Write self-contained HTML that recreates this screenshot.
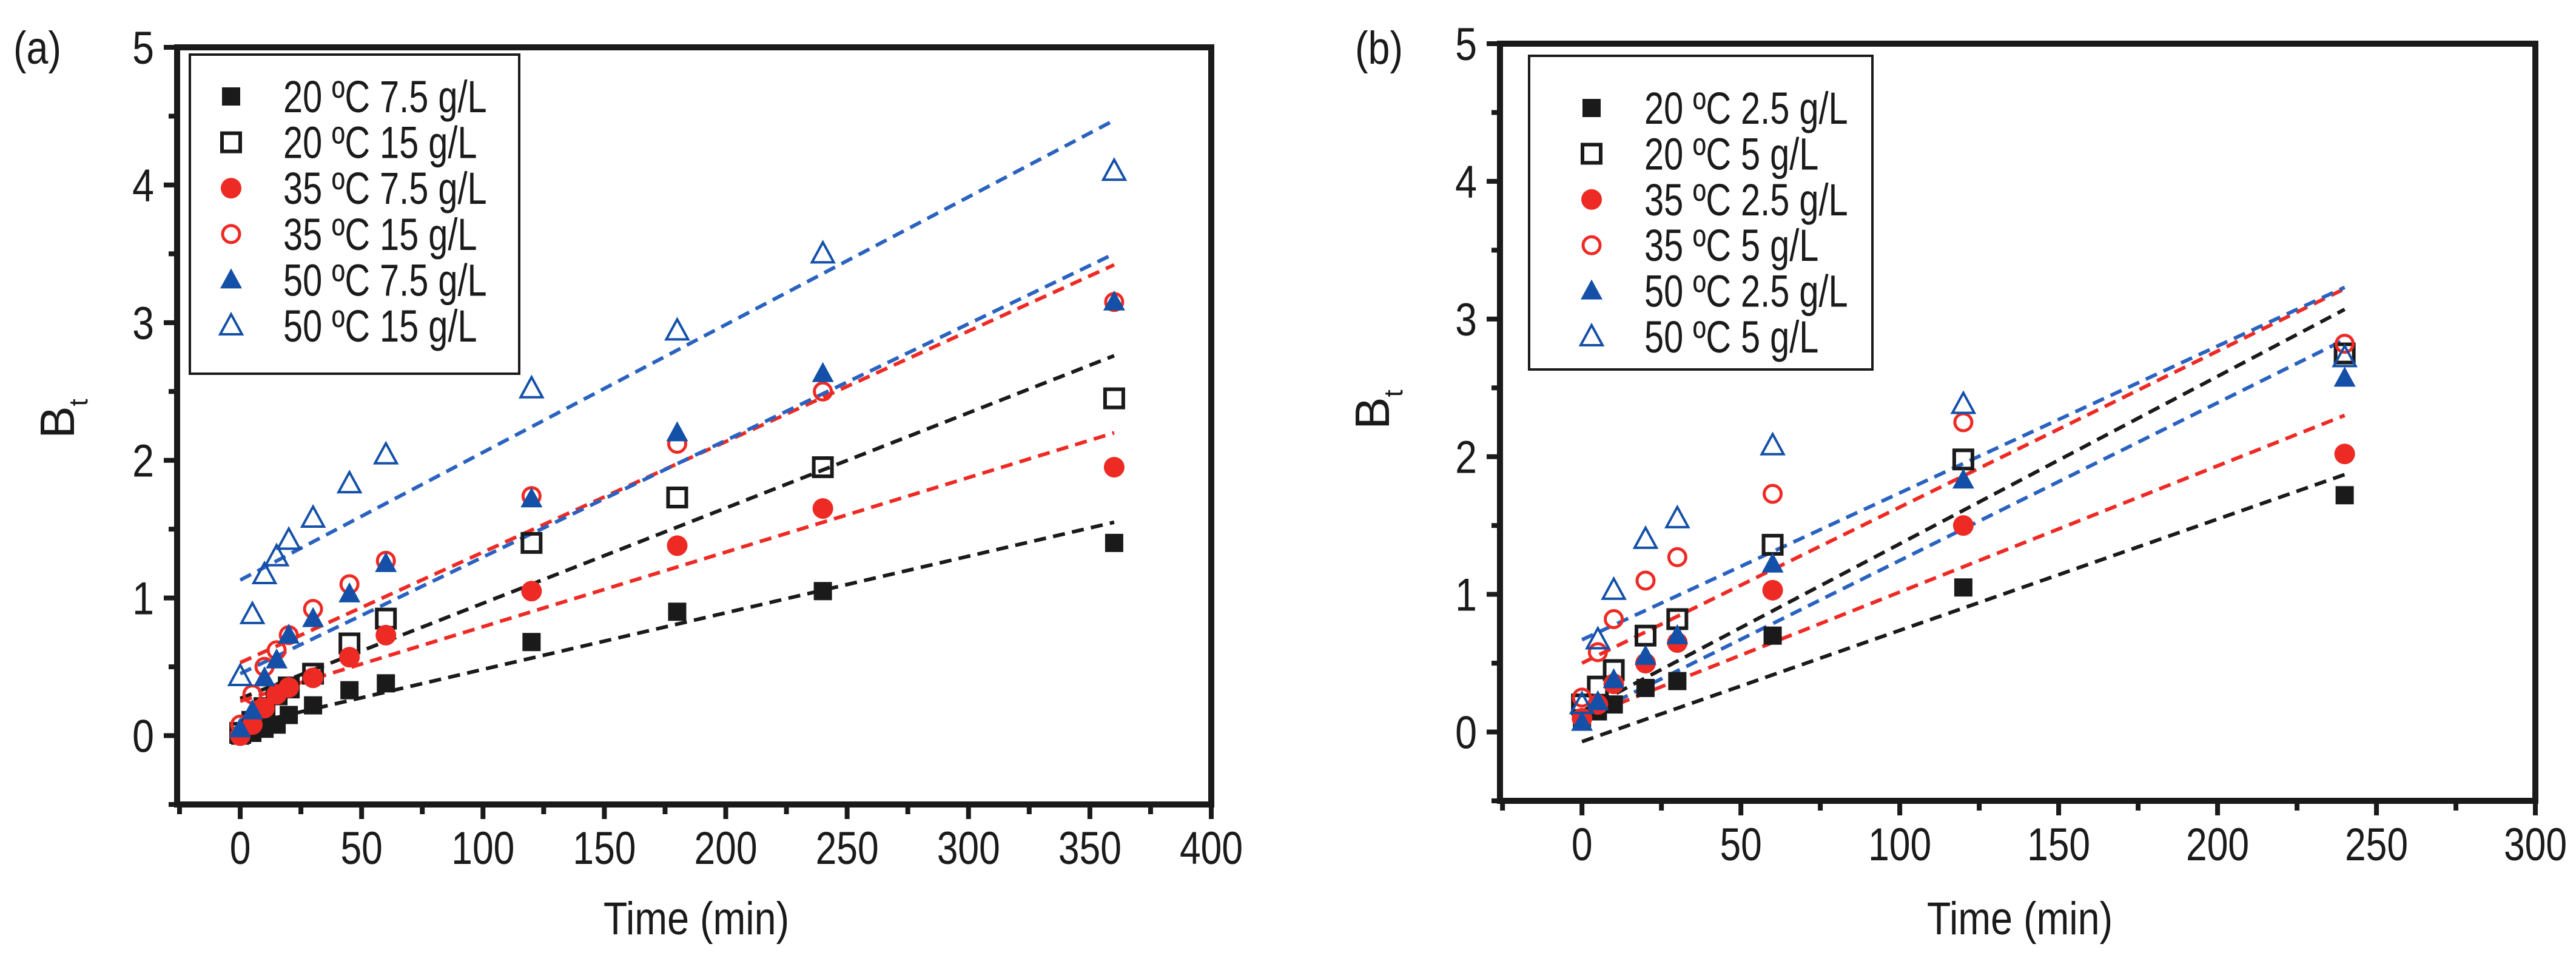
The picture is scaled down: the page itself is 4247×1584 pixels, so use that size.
<!DOCTYPE html>
<html><head><meta charset="utf-8"><style>
html,body{margin:0;padding:0;background:#fff;}
svg{display:block;font-family:"Liberation Sans",sans-serif;}
</style></head><body>
<svg id="s" width="4247" height="1584" viewBox="0 0 4247 1584" xmlns="http://www.w3.org/2000/svg"></svg>
<script>
const NS="http://www.w3.org/2000/svg";
const svg=document.getElementById('s');
// ---- Panel (a) data ----
const timesA=[0,5,10,15,20,30,45,60,120,180,240,360];
const a20_75=[0,0.02,0.05,0.08,0.15,0.22,0.33,0.38,0.68,0.9,1.05,1.4];
const a20_15=[0.02,0.1,0.2,0.3,0.35,0.45,0.67,0.85,1.4,1.73,1.95,2.45];
const a35_75=[0,0.08,0.2,0.3,0.35,0.42,0.57,0.73,1.05,1.38,1.65,1.95];
const a35_15=[0.08,0.3,0.5,0.62,0.73,0.92,1.1,1.27,1.74,2.12,2.5,3.15];
const a50_75=[0.05,0.18,0.42,0.55,0.73,0.85,1.03,1.25,1.72,2.2,2.63,3.15];
const a50_15=[0.43,0.88,1.17,1.3,1.42,1.58,1.83,2.04,2.52,2.94,3.5,4.1];
const fitA_start=[0.07,0.27,0.25,0.53,0.45,1.13];
const fitA_end=[1.55,2.76,2.2,3.42,3.5,4.47];
const legendA=["20 ºC 7.5 g/L","20 ºC 15 g/L","35 ºC 7.5 g/L","35 ºC 15 g/L","50 ºC 7.5 g/L","50 ºC 15 g/L"];
const xTicksA=[0,50,100,150,200,250,300,350,400];
// ---- Panel (b) data ----
const timesB=[0,5,10,20,30,60,120,240];
const b20_25=[0.1,0.15,0.2,0.32,0.37,0.7,1.05,1.72];
const b20_5=[0.2,0.33,0.45,0.7,0.82,1.36,1.98,2.75];
const b35_25=[0.1,0.2,0.35,0.5,0.65,1.03,1.5,2.02];
const b35_5=[0.25,0.58,0.82,1.1,1.27,1.73,2.25,2.82];
const b50_25=[0.07,0.22,0.38,0.55,0.7,1.22,1.83,2.57];
const b50_5=[0.2,0.67,1.03,1.4,1.55,2.08,2.38,2.72];
const fitB_start=[-0.07,0.15,0.1,0.5,0.1,0.67];
const fitB_end=[1.87,3.07,2.3,3.22,2.85,3.23];
const legendB=["20 ºC 2.5 g/L","20 ºC 5 g/L","35 ºC 2.5 g/L","35 ºC 5 g/L","50 ºC 2.5 g/L","50 ºC 5 g/L"];
const xTicksB=[0,50,100,150,200,250,300];
const yTicks=[0,1,2,3,4,5];

const RED="#ee2a24",BLUE="#1450a8",BLK="#1a1a1a";
const styles=[{m:'sq',f:true,c:BLK},{m:'sq',f:false,c:BLK},{m:'ci',f:true,c:RED},{m:'ci',f:false,c:RED},{m:'tr',f:true,c:BLUE},{m:'tr',f:false,c:BLUE}];
const lineCols=[BLK,BLK,RED,RED,"#2a62c0","#2a62c0"];

function el(tag,attrs,parent){const e=document.createElementNS(NS,tag);for(const k in attrs)e.setAttribute(k,attrs[k]);(parent||svg).appendChild(e);return e;}
function narrow(t,k){const w=t.getComputedTextLength();t.setAttribute('textLength',(w*k).toFixed(1));t.setAttribute('lengthAdjust','spacingAndGlyphs');}
function marker(g,st,x,y){
  const sw=st.f?0:5,fill=st.f?st.c:'none';let e;
  if(st.m==='sq'){e=el('rect',{x:x-15,y:y-15,width:30,height:30,fill:fill,stroke:st.c,'stroke-width':st.f?0:6},g);}
  else if(st.m==='ci'){e=el('circle',{cx:x,cy:y,r:st.f?17:14,fill:fill,stroke:st.c,'stroke-width':sw},g);}
  else{e=el('polygon',{points:`${x},${y-19} ${x+18},${y+14} ${x-18},${y+14}`,fill:fill,stroke:st.c,'stroke-width':st.f?0:4},g);}
  return e;
}
function panel(o){
  const g=el('g',{});
  
  
  const X=v=>o.x0+(v-o.xmin)*(o.x1-o.x0)/(o.xmax-o.xmin);
  const Y=v=>o.y0+(v-(-0.5))*(o.y1-o.y0)/(5.5);
  for(let v=-25;v<=o.xmax+0.001;v+=25){
    if(v<o.xmin)continue;
    const major=v%50===0;
    const t=el('line',{x1:X(v),x2:X(v),y1:o.y0,y2:o.y0+(major?24:16),stroke:BLK,'stroke-width':8},g);
    
    
  }
  o.xt.forEach(v=>{
    const t=el('text',{x:X(v),y:o.y0+98,'font-size':76,'text-anchor':'middle',fill:BLK},g);t.textContent=v;
    
    
    narrow(t,0.82);
  });
  for(let v=-0.5;v<=5.001;v+=0.5){
    const major=Math.abs(v-Math.round(v))<0.01;
    const t=el('line',{x1:o.x0-(major?22:14),x2:o.x0,y1:Y(v),y2:Y(v),stroke:BLK,'stroke-width':8},g);
    
    
  }
  yTicks.forEach(v=>{
    const t=el('text',{x:o.x0-38,y:Y(v)+27,'font-size':76,'text-anchor':'end',fill:BLK},g);t.textContent=v;
    
    
    narrow(t,0.85);
  });
  for(let i=0;i<6;i++){
    const l=el('line',{x1:X(0),y1:Y(o.fs[i]),x2:X(o.fx),y2:Y(o.fe[i]),stroke:lineCols[i],'stroke-width':6,'stroke-dasharray':'20 12'},g);
    
    
  }
  for(let i=0;i<6;i++){
    o.series[i].forEach((v,j)=>{
      const m=marker(g,styles[i],X(o.t[j]),Y(v));
      
      
    });
  }
  const f=el('rect',{x:o.x0,y:o.y1,width:o.x1-o.x0,height:o.y0-o.y1,fill:'none',stroke:BLK,'stroke-width':10},g);
  
  
  const lg=el('g',{},g);
  
  
  el('rect',{x:o.lx,y:o.ly,width:o.lw,height:o.lh,fill:'#fff',stroke:BLK,'stroke-width':4},lg);
  for(let i=0;i<6;i++){
    const yy=o.ey0+i*o.edy;
    const m=marker(lg,styles[i],o.mx,yy);
    
    
    const t=el('text',{x:o.tx,y:yy+26,'font-size':74,fill:BLK},lg);t.textContent=o.leg[i];
    
    
    narrow(t,0.78);
  }
  const pl=el('text',{x:o.px,y:105,'font-size':76,fill:BLK},g);pl.textContent=o.plabel;
  
  
  narrow(pl,0.85);
  const yl=el('text',{transform:`translate(${o.ylx},${o.yly}) rotate(-90)`,'font-size':80,'text-anchor':'middle',fill:BLK},g);
  yl.innerHTML='B<tspan font-size="44" dy="22">t</tspan>';
  
  
  const xl=el('text',{x:o.xlx,y:1540,'font-size':76,'text-anchor':'middle',fill:BLK},g);xl.textContent='Time (min)';
  
  
  narrow(xl,0.85);
}
panel({name:'panel-a',x0:292,x1:1997,y0:1326,y1:78,xmin:-26,xmax:400,t:timesA,
  series:[a20_75,a20_15,a35_75,a35_15,a50_75,a50_15],fs:fitA_start,fe:fitA_end,fx:360,xt:xTicksA,
  lx:313,ly:90,lw:543,lh:526,ey0:159,edy:75.6,mx:381,tx:467,leg:legendA,px:22,plabel:'(a)',ylx:122,yly:690,xlx:1148});
panel({name:'panel-b',x0:2473,x1:4180,y0:1320,y1:72,xmin:-25.8,xmax:300,t:timesB,
  series:[b20_25,b20_5,b35_25,b35_5,b50_25,b50_5],fs:fitB_start,fe:fitB_end,fx:240,xt:xTicksB,
  lx:2521,ly:92,lw:566,lh:517,ey0:178,edy:75.4,mx:2624,tx:2711,leg:legendB,px:2234,plabel:'(b)',ylx:2290,yly:675,xlx:3330});
</script>
</body></html>
